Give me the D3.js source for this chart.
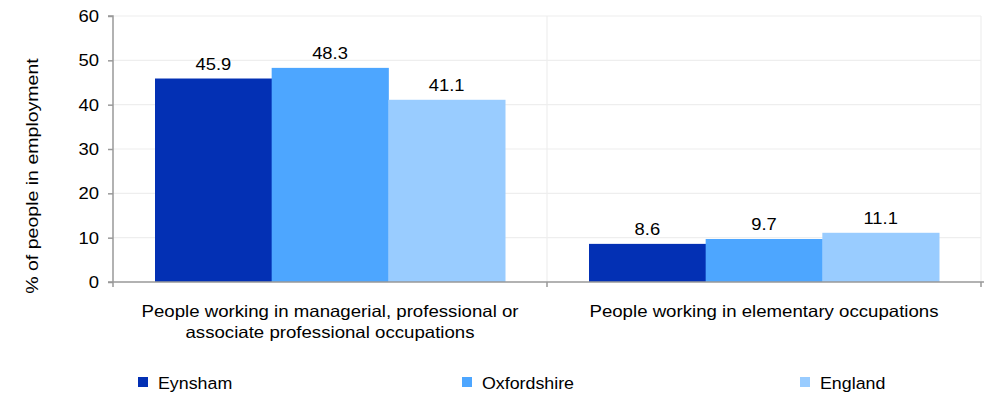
<!DOCTYPE html>
<html><head><meta charset="utf-8">
<script src="https://cdn.jsdelivr.net/npm/d3@7"></script>
<style>body{margin:0;background:#fff;} text{font-family:"Liberation Sans",Arial,sans-serif;fill:#000;}</style>
</head><body><svg id="c" width="984" height="393"></svg>
<script>
const categories = [["People working in managerial, professional or","associate professional occupations"],["People working in elementary occupations"]];
const seriesNames = ["Eynsham","Oxfordshire","England"];
const eynsham = [45.9, 8.6];
const oxfordshire = [48.3, 9.7];
const england = [41.1, 11.1];
const yTicks = [0,10,20,30,40,50,60];
const colors = ["#0330B4","#4DA6FF","#99CCFF"];
const seriesVals = [eynsham, oxfordshire, england];

const svg = d3.select("#c");
const L=113, R=981, T=16, B=282;
const SX=1.13, FS=16.5;
function txt(x, y, s, anchor, fs, sx){
  return svg.append("g").attr("transform",`translate(${x},${y}) scale(${sx||SX},1)`)
    .append("text").attr("text-anchor",anchor||"start").attr("font-size",fs||FS).text(s);
}
const x0 = d3.scaleBand().domain(d3.range(categories.length)).range([L,R]).paddingInner(0).paddingOuter(0);
const x1 = d3.scaleBand().domain(d3.range(seriesNames.length)).range([0,x0.bandwidth()]).paddingOuter(0.36).paddingInner(0);
const y = d3.scaleLinear().domain([0,60]).range([B,T]);

// gridlines
svg.append("g").selectAll("line").data(yTicks.slice(1)).join("line")
 .attr("x1",L).attr("x2",R).attr("y1",d=>y(d)).attr("y2",d=>y(d)).attr("stroke","#eeeeee").attr("stroke-width",1.2);
svg.append("g").selectAll("line").data(d3.range(1,categories.length+1)).join("line")
 .attr("x1",d=>L+d*x0.bandwidth()).attr("x2",d=>L+d*x0.bandwidth()).attr("y1",T).attr("y2",B).attr("stroke","#eeeeee").attr("stroke-width",1.2);

// bars
categories.forEach((c,ci)=>{
  seriesVals.forEach((vals,si)=>{
    svg.append("rect").attr("x",x0(ci)+x1(si)).attr("width",x1.bandwidth()+0.5)
     .attr("y",y(vals[ci])).attr("height",B-y(vals[ci])).attr("fill",colors[si]);
    txt(x0(ci)+x1(si)+x1.bandwidth()/2, y(vals[ci])-9, vals[ci].toFixed(1), "middle", 17, 1.08);
  });
});

// y axis
const yAx = svg.append("g").attr("transform",`translate(${L},0)`)
 .call(d3.axisLeft(y).tickValues(yTicks).tickSize(5).tickPadding(7));
yAx.select(".domain").attr("stroke","#999").attr("stroke-width",1.5).attr("d",`M-5,${T}H0V${B}`);
yAx.selectAll(".tick line").attr("stroke","#999").attr("stroke-width",1.5);
yAx.selectAll("text").remove();
yTicks.forEach(t=>txt(L-14, y(t)+6, String(t), "end", 16.5, 1.12));

// x axis
svg.append("line").attr("x1",L-5).attr("x2",R+3).attr("y1",B).attr("y2",B).attr("stroke","#999").attr("stroke-width",1.5);
svg.append("g").selectAll("line").data(d3.range(0,categories.length+1)).join("line")
 .attr("x1",d=>L+d*x0.bandwidth()).attr("x2",d=>L+d*x0.bandwidth()).attr("y1",B).attr("y2",B+5).attr("stroke","#999").attr("stroke-width",1.5);
categories.forEach((c,ci)=>{
  c.forEach((line,li)=>txt(x0(ci)+x0.bandwidth()/2, 317+li*20.5, line, "middle"));
});

// y title
svg.append("g").attr("transform","translate(38,176) rotate(-90) scale(1.15,1)")
 .append("text").attr("text-anchor","middle").attr("font-size",17).text("% of people in employment");

// legend
const legX = [138, 462, 800];
seriesNames.forEach((n,i)=>{
  svg.append("rect").attr("x",legX[i]).attr("y",377).attr("width",10).attr("height",10).attr("fill",colors[i]);
  txt(legX[i]+20, 389, n, "start", 16.5, 1.08);
});
</script></body></html>
